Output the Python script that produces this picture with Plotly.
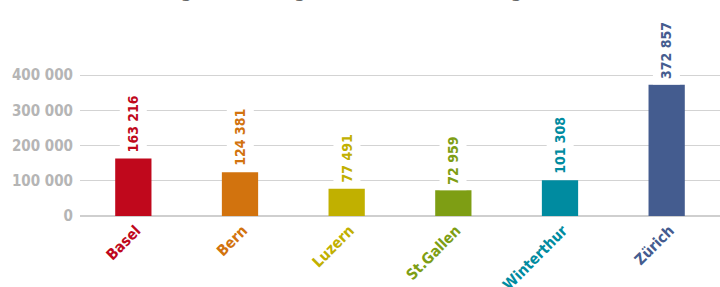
import plotly.graph_objects as go

cities = ["Basel", "Bern", "Luzern", "St.Gallen", "Winterthur", "Zürich"]
population = [163216, 124381, 77491, 72959, 101308, 372857]
colors = ["#C0081C", "#D2730E", "#C1B000", "#7E9E14", "#008BA0", "#445C8F"]
y_ticks = [0, 100000, 200000, 300000, 400000]
title_text = "Bevölkerung der sechs grössten Städte im Vergleich, 2013"

FONT = "DejaVu Sans Condensed, DejaVu Sans"

def fmt(v):
    return f"{v:,}".replace(",", " ")

fig = go.Figure(go.Bar(
    x=cities, y=population, marker_color=colors, marker_line_width=0,
    hoverinfo="skip",
))

for c, v, col in zip(cities, population, colors):
    fig.add_annotation(
        x=c, y=v, text=fmt(v), textangle=-90, showarrow=False,
        yanchor="bottom", xanchor="center", bgcolor="white", borderpad=5,
        font=dict(family=FONT, size=14, color=col, weight="bold"),
    )

fig.add_annotation(
    xref="paper", yref="paper", x=-0.011, y=1, yshift=37, xanchor="left", yanchor="bottom",
    text=title_text, showarrow=False,
    font=dict(family=FONT, size=18.5, color="#666666", weight="bold"),
)

fig.update_layout(
    width=720, height=287,
    margin=dict(l=80, r=0, t=40, b=71),
    paper_bgcolor="white", plot_bgcolor="white",
    bargap=0.66, showlegend=False,
    separators=". ",
    font=dict(family=FONT),
)
fig.update_xaxes(
    tickmode="array", tickvals=cities,
    ticktext=[f'<span style="color:{col}">{c}</span>' for c, col in zip(cities, colors)],
    tickangle=-45, tickfont=dict(family=FONT, size=15, weight="bold"),
    showline=False, showgrid=False, automargin=False,
    ticklabelstandoff=2, ticklabelshift=3,
)
fig.update_yaxes(
    range=[0, 500000], tickvals=y_ticks, ticktext=[fmt(v) for v in y_ticks],
    tickfont=dict(family=FONT, size=15, color="#B5B5B5", weight="bold"),
    showgrid=True, gridcolor="#D3D3D3", gridwidth=1,
    zeroline=True, zerolinecolor="#CFCFCF", zerolinewidth=2,
    ticklabelstandoff=6, automargin=False,
)

fig.write_html(
    "out.html",
    config={"displayModeBar": False},
    post_script="document.body.style.margin='0';document.body.style.overflow='hidden';",
)
